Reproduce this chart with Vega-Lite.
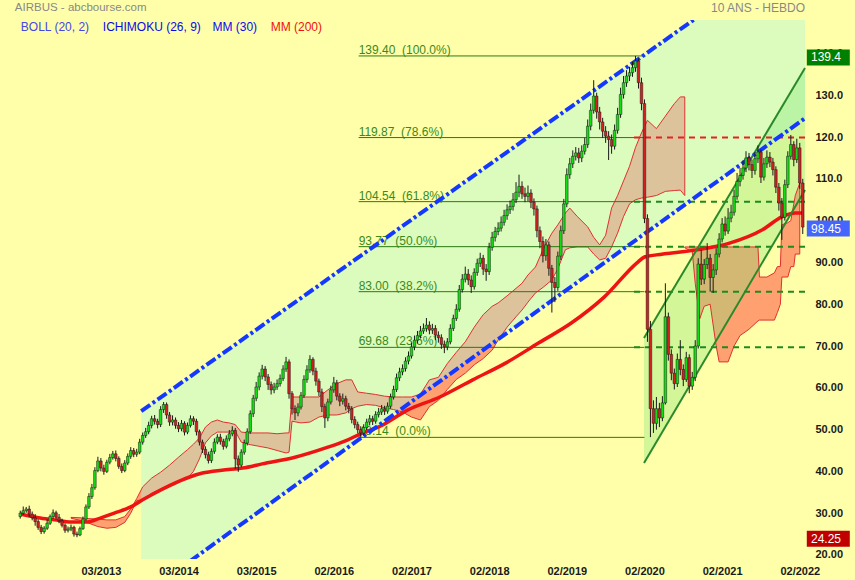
{
"$schema": "https://vega.github.io/schema/vega-lite/v6.json",
"width": 810, "height": 539,
"autosize": {"type": "none"},
"padding": {"left": 0, "top": 20, "right": 45, "bottom": 21},
"background": "#FFFFAA",
"config": {"font": "Liberation Sans", "view": {"stroke": null}},
"datasets": {
"candles": [
{"w":0,"o":29.2,"h":30.6,"l":28.7,"c":30.0},{"w":2,"o":30.0,"h":31.6,"l":29.6,"c":30.6},{"w":4,"o":30.6,"h":31.5,"l":30.1,"c":31.0},{"w":6,"o":31.0,"h":31.8,"l":29.1,"c":29.8},{"w":8,"o":29.8,"h":30.4,"l":28.3,"c":28.9},{"w":10,"o":28.9,"h":29.8,"l":27.0,"c":28.0},{"w":12,"o":28.0,"h":28.5,"l":26.0,"c":26.6},{"w":14,"o":26.6,"h":27.2,"l":25.0,"c":25.6},{"w":16,"o":25.6,"h":26.9,"l":25.1,"c":26.4},{"w":18,"o":26.4,"h":28.5,"l":26.0,"c":27.6},
{"w":20,"o":27.6,"h":29.7,"l":27.2,"c":29.2},{"w":22,"o":29.2,"h":30.9,"l":28.7,"c":30.1},{"w":24,"o":30.1,"h":30.6,"l":28.5,"c":29.0},{"w":26,"o":29.0,"h":29.8,"l":27.6,"c":28.2},{"w":28,"o":28.2,"h":28.7,"l":26.6,"c":27.1},{"w":30,"o":27.1,"h":27.6,"l":25.3,"c":25.9},{"w":32,"o":25.9,"h":26.8,"l":25.4,"c":26.2},{"w":34,"o":26.2,"h":27.3,"l":25.7,"c":26.6},{"w":36,"o":26.6,"h":27.0,"l":24.4,"c":25.0},{"w":38,"o":25.0,"h":25.6,"l":24.25,"c":24.8},
{"w":40,"o":24.8,"h":26.8,"l":24.5,"c":26.3},{"w":42,"o":26.3,"h":29.2,"l":26.0,"c":28.6},{"w":44,"o":28.6,"h":32.1,"l":28.2,"c":31.5},{"w":46,"o":31.5,"h":34.8,"l":31.0,"c":34.0},{"w":48,"o":34.0,"h":37.0,"l":33.4,"c":36.1},{"w":50,"o":36.1,"h":41.0,"l":35.6,"c":40.2},{"w":52,"o":40.2,"h":43.5,"l":39.8,"c":42.5},{"w":54,"o":42.5,"h":43.2,"l":40.0,"c":40.8},{"w":56,"o":40.8,"h":41.6,"l":39.2,"c":40.0},{"w":58,"o":40.0,"h":42.8,"l":39.6,"c":42.2},
{"w":60,"o":42.2,"h":44.2,"l":41.7,"c":43.3},{"w":62,"o":43.3,"h":44.9,"l":42.8,"c":44.2},{"w":64,"o":44.2,"h":45.0,"l":42.4,"c":43.1},{"w":66,"o":43.1,"h":43.6,"l":40.6,"c":41.2},{"w":68,"o":41.2,"h":41.9,"l":39.6,"c":40.2},{"w":70,"o":40.2,"h":42.7,"l":39.8,"c":42.0},{"w":72,"o":42.0,"h":44.3,"l":41.5,"c":43.6},{"w":74,"o":43.6,"h":45.8,"l":43.0,"c":45.0},{"w":76,"o":45.0,"h":45.6,"l":43.4,"c":44.1},{"w":78,"o":44.1,"h":45.4,"l":43.5,"c":44.6},
{"w":80,"o":44.6,"h":47.8,"l":44.1,"c":47.0},{"w":82,"o":47.0,"h":49.3,"l":46.4,"c":48.6},{"w":84,"o":48.6,"h":50.4,"l":48.0,"c":49.5},{"w":86,"o":49.5,"h":51.9,"l":48.9,"c":51.0},{"w":88,"o":51.0,"h":53.3,"l":50.3,"c":52.6},{"w":90,"o":52.6,"h":53.5,"l":51.2,"c":52.0},{"w":92,"o":52.0,"h":52.6,"l":50.3,"c":51.2},{"w":94,"o":51.2,"h":55.6,"l":50.6,"c":54.8},{"w":96,"o":54.8,"h":56.6,"l":54.0,"c":56.0},{"w":98,"o":56.0,"h":56.5,"l":52.6,"c":53.5},
{"w":100,"o":53.5,"h":54.2,"l":50.9,"c":51.8},{"w":102,"o":51.8,"h":53.4,"l":51.0,"c":52.3},{"w":104,"o":52.3,"h":52.9,"l":50.2,"c":51.0},{"w":106,"o":51.0,"h":51.8,"l":49.4,"c":50.2},{"w":108,"o":50.2,"h":52.3,"l":49.6,"c":51.5},{"w":110,"o":51.5,"h":52.0,"l":48.6,"c":49.4},{"w":112,"o":49.4,"h":51.7,"l":48.9,"c":51.0},{"w":114,"o":51.0,"h":53.4,"l":50.5,"c":52.6},{"w":116,"o":52.6,"h":53.2,"l":51.1,"c":52.0},{"w":118,"o":52.0,"h":52.6,"l":48.6,"c":49.5},
{"w":120,"o":49.5,"h":50.0,"l":46.2,"c":47.0},{"w":122,"o":47.0,"h":47.6,"l":44.4,"c":45.3},{"w":124,"o":45.3,"h":46.0,"l":43.1,"c":44.0},{"w":126,"o":44.0,"h":44.7,"l":41.9,"c":42.6},{"w":128,"o":42.6,"h":45.5,"l":42.0,"c":44.8},{"w":130,"o":44.8,"h":47.9,"l":44.2,"c":47.0},{"w":132,"o":47.0,"h":48.9,"l":46.5,"c":48.2},{"w":134,"o":48.2,"h":49.0,"l":46.4,"c":47.2},{"w":136,"o":47.2,"h":47.8,"l":45.2,"c":46.0},{"w":138,"o":46.0,"h":48.6,"l":45.5,"c":47.8},
{"w":140,"o":47.8,"h":49.9,"l":47.2,"c":49.0},{"w":142,"o":49.0,"h":50.8,"l":48.4,"c":49.8},{"w":144,"o":49.8,"h":50.4,"l":40.6,"c":43.0},{"w":146,"o":43.0,"h":43.8,"l":39.9,"c":41.5},{"w":148,"o":41.5,"h":45.3,"l":41.0,"c":44.6},{"w":150,"o":44.6,"h":47.6,"l":44.0,"c":46.8},{"w":152,"o":46.8,"h":50.3,"l":46.2,"c":49.5},{"w":154,"o":49.5,"h":54.6,"l":49.0,"c":53.8},{"w":156,"o":53.8,"h":58.3,"l":53.0,"c":57.5},{"w":158,"o":57.5,"h":61.4,"l":56.8,"c":60.2},
{"w":160,"o":60.2,"h":63.7,"l":59.4,"c":62.8},{"w":162,"o":62.8,"h":65.5,"l":62.0,"c":64.5},{"w":164,"o":64.5,"h":65.2,"l":61.6,"c":62.6},{"w":166,"o":62.6,"h":63.3,"l":59.5,"c":60.8},{"w":168,"o":60.8,"h":61.5,"l":58.4,"c":59.5},{"w":170,"o":59.5,"h":61.2,"l":58.7,"c":60.2},{"w":172,"o":60.2,"h":62.0,"l":59.5,"c":61.0},{"w":174,"o":61.0,"h":63.2,"l":60.3,"c":62.2},{"w":176,"o":62.2,"h":65.4,"l":61.6,"c":64.5},{"w":178,"o":64.5,"h":67.4,"l":63.8,"c":66.2},
{"w":180,"o":66.2,"h":66.8,"l":57.4,"c":58.6},{"w":182,"o":58.6,"h":59.2,"l":53.6,"c":55.0},{"w":184,"o":55.0,"h":55.8,"l":52.3,"c":54.0},{"w":186,"o":54.0,"h":56.3,"l":53.2,"c":55.4},{"w":188,"o":55.4,"h":59.0,"l":54.8,"c":58.2},{"w":190,"o":58.2,"h":63.0,"l":57.6,"c":62.0},{"w":192,"o":62.0,"h":65.4,"l":61.2,"c":64.3},{"w":194,"o":64.3,"h":67.8,"l":63.6,"c":66.8},{"w":196,"o":66.8,"h":67.3,"l":63.0,"c":64.0},{"w":198,"o":64.0,"h":64.8,"l":60.5,"c":61.6},
{"w":200,"o":61.6,"h":62.2,"l":58.0,"c":59.0},{"w":202,"o":59.0,"h":59.8,"l":54.2,"c":55.5},{"w":204,"o":55.5,"h":56.2,"l":50.4,"c":52.8},{"w":206,"o":52.8,"h":57.4,"l":52.0,"c":56.6},{"w":208,"o":56.6,"h":60.5,"l":56.0,"c":59.5},{"w":210,"o":59.5,"h":62.6,"l":58.8,"c":61.2},{"w":212,"o":61.2,"h":61.9,"l":57.0,"c":58.0},{"w":214,"o":58.0,"h":58.7,"l":55.6,"c":56.8},{"w":216,"o":56.8,"h":58.6,"l":56.0,"c":57.4},{"w":218,"o":57.4,"h":58.1,"l":54.6,"c":55.6},
{"w":220,"o":55.6,"h":56.4,"l":53.9,"c":55.0},{"w":222,"o":55.0,"h":55.6,"l":51.5,"c":52.4},{"w":224,"o":52.4,"h":53.2,"l":50.3,"c":51.2},{"w":226,"o":51.2,"h":51.9,"l":49.1,"c":50.0},{"w":228,"o":50.0,"h":50.8,"l":48.14,"c":49.2},{"w":230,"o":49.2,"h":51.3,"l":48.6,"c":50.5},{"w":232,"o":50.5,"h":52.6,"l":49.9,"c":51.8},{"w":234,"o":51.8,"h":53.5,"l":51.0,"c":52.6},{"w":236,"o":52.6,"h":53.3,"l":51.1,"c":52.0},{"w":238,"o":52.0,"h":54.4,"l":51.4,"c":53.6},
{"w":240,"o":53.6,"h":55.2,"l":52.9,"c":54.2},{"w":242,"o":54.2,"h":55.9,"l":53.5,"c":55.0},{"w":244,"o":55.0,"h":55.7,"l":53.5,"c":54.4},{"w":246,"o":54.4,"h":56.5,"l":53.8,"c":55.6},{"w":248,"o":55.6,"h":58.6,"l":55.0,"c":57.8},{"w":250,"o":57.8,"h":60.5,"l":57.2,"c":59.6},{"w":252,"o":59.6,"h":63.4,"l":59.0,"c":62.4},{"w":254,"o":62.4,"h":64.8,"l":61.6,"c":63.8},{"w":256,"o":63.8,"h":65.6,"l":63.0,"c":64.6},{"w":258,"o":64.6,"h":67.3,"l":63.9,"c":66.4},
{"w":260,"o":66.4,"h":68.7,"l":65.6,"c":67.6},{"w":262,"o":67.6,"h":70.8,"l":67.0,"c":69.8},{"w":264,"o":69.8,"h":72.5,"l":69.0,"c":71.4},{"w":266,"o":71.4,"h":73.6,"l":70.6,"c":72.5},{"w":268,"o":72.5,"h":74.8,"l":71.8,"c":73.6},{"w":270,"o":73.6,"h":75.4,"l":72.9,"c":74.2},{"w":272,"o":74.2,"h":76.7,"l":73.4,"c":75.0},{"w":274,"o":75.0,"h":75.9,"l":72.8,"c":73.8},{"w":276,"o":73.8,"h":75.3,"l":72.9,"c":74.2},{"w":278,"o":74.2,"h":75.0,"l":71.4,"c":72.6},
{"w":280,"o":72.6,"h":73.5,"l":70.8,"c":72.0},{"w":282,"o":72.0,"h":72.8,"l":69.3,"c":70.4},{"w":284,"o":70.4,"h":71.3,"l":68.3,"c":69.8},{"w":286,"o":69.8,"h":71.9,"l":69.0,"c":71.0},{"w":288,"o":71.0,"h":75.2,"l":70.4,"c":74.2},{"w":290,"o":74.2,"h":77.5,"l":73.6,"c":76.6},{"w":292,"o":76.6,"h":80.0,"l":76.0,"c":78.8},{"w":294,"o":78.8,"h":84.6,"l":78.2,"c":83.5},{"w":296,"o":83.5,"h":87.2,"l":82.8,"c":86.0},{"w":298,"o":86.0,"h":89.0,"l":85.2,"c":87.2},
{"w":300,"o":87.2,"h":88.4,"l":84.6,"c":85.8},{"w":302,"o":85.8,"h":86.9,"l":82.7,"c":84.2},{"w":304,"o":84.2,"h":88.6,"l":83.5,"c":87.6},{"w":306,"o":87.6,"h":90.9,"l":86.8,"c":89.8},{"w":308,"o":89.8,"h":92.3,"l":88.9,"c":91.0},{"w":310,"o":91.0,"h":91.8,"l":87.0,"c":88.4},{"w":312,"o":88.4,"h":89.6,"l":85.6,"c":87.8},{"w":314,"o":87.8,"h":94.7,"l":87.0,"c":93.6},{"w":316,"o":93.6,"h":97.3,"l":92.8,"c":96.0},{"w":318,"o":96.0,"h":98.5,"l":95.0,"c":97.4},
{"w":320,"o":97.4,"h":99.6,"l":96.5,"c":98.2},{"w":322,"o":98.2,"h":101.0,"l":97.4,"c":99.6},{"w":324,"o":99.6,"h":102.6,"l":98.8,"c":101.2},{"w":326,"o":101.2,"h":103.9,"l":100.2,"c":102.6},{"w":328,"o":102.6,"h":104.8,"l":101.6,"c":103.4},{"w":330,"o":103.4,"h":106.6,"l":102.4,"c":105.0},{"w":332,"o":105.0,"h":109.2,"l":104.2,"c":106.8},{"w":334,"o":106.8,"h":111.0,"l":105.6,"c":108.2},{"w":336,"o":108.2,"h":109.4,"l":105.2,"c":106.4},{"w":338,"o":106.4,"h":107.9,"l":104.4,"c":105.8},
{"w":340,"o":105.8,"h":108.4,"l":104.6,"c":106.6},{"w":342,"o":106.6,"h":107.5,"l":103.0,"c":104.4},{"w":344,"o":104.4,"h":105.3,"l":101.2,"c":102.8},{"w":346,"o":102.8,"h":103.6,"l":96.0,"c":97.6},{"w":348,"o":97.6,"h":98.6,"l":93.4,"c":95.0},{"w":350,"o":95.0,"h":96.2,"l":90.0,"c":91.6},{"w":352,"o":91.6,"h":95.6,"l":90.4,"c":94.2},{"w":354,"o":94.2,"h":95.0,"l":86.8,"c":88.6},{"w":356,"o":88.6,"h":89.4,"l":78.0,"c":85.2},{"w":358,"o":85.2,"h":86.5,"l":80.5,"c":84.0},
{"w":360,"o":84.0,"h":92.6,"l":83.2,"c":91.5},{"w":362,"o":91.5,"h":98.8,"l":90.6,"c":97.6},{"w":364,"o":97.6,"h":105.2,"l":96.8,"c":104.0},{"w":366,"o":104.0,"h":112.5,"l":103.2,"c":111.0},{"w":368,"o":111.0,"h":115.0,"l":110.0,"c":113.6},{"w":370,"o":113.6,"h":116.8,"l":112.6,"c":115.4},{"w":372,"o":115.4,"h":117.6,"l":114.4,"c":116.2},{"w":374,"o":116.2,"h":117.4,"l":113.8,"c":115.0},{"w":376,"o":115.0,"h":118.0,"l":114.0,"c":116.6},{"w":378,"o":116.6,"h":119.8,"l":115.8,"c":118.2},
{"w":380,"o":118.2,"h":124.2,"l":117.4,"c":122.6},{"w":382,"o":122.6,"h":128.0,"l":121.6,"c":126.4},{"w":384,"o":126.4,"h":133.6,"l":125.6,"c":129.8},{"w":386,"o":129.8,"h":130.6,"l":124.4,"c":126.0},{"w":388,"o":126.0,"h":127.2,"l":121.8,"c":123.6},{"w":390,"o":123.6,"h":124.6,"l":119.8,"c":121.4},{"w":392,"o":121.4,"h":122.6,"l":118.6,"c":120.2},{"w":394,"o":120.2,"h":121.4,"l":114.5,"c":119.4},{"w":396,"o":119.4,"h":120.6,"l":116.0,"c":117.8},{"w":398,"o":117.8,"h":123.0,"l":117.0,"c":121.6},
{"w":400,"o":121.6,"h":127.0,"l":120.8,"c":125.4},{"w":402,"o":125.4,"h":131.8,"l":124.6,"c":130.2},{"w":404,"o":130.2,"h":134.6,"l":129.2,"c":133.0},{"w":406,"o":133.0,"h":136.0,"l":132.0,"c":134.6},{"w":408,"o":134.6,"h":136.8,"l":133.4,"c":135.4},{"w":410,"o":135.4,"h":138.0,"l":134.4,"c":136.6},{"w":412,"o":136.6,"h":139.4,"l":135.6,"c":138.2},{"w":414,"o":138.2,"h":138.8,"l":131.6,"c":133.0},{"w":416,"o":133.0,"h":134.2,"l":126.4,"c":128.0},{"w":418,"o":128.0,"h":129.0,"l":99.4,"c":100.5},
{"w":420,"o":100.5,"h":101.5,"l":71.0,"c":74.0},{"w":422,"o":74.0,"h":76.0,"l":48.2,"c":55.0},{"w":424,"o":55.0,"h":57.0,"l":49.2,"c":51.5},{"w":426,"o":51.5,"h":57.8,"l":50.0,"c":55.0},{"w":428,"o":55.0,"h":56.4,"l":50.6,"c":52.8},{"w":430,"o":52.8,"h":58.0,"l":52.0,"c":56.4},{"w":432,"o":56.4,"h":85.0,"l":56.0,"c":77.0},{"w":434,"o":77.0,"h":78.0,"l":66.5,"c":68.0},{"w":436,"o":68.0,"h":69.2,"l":61.8,"c":63.5},{"w":438,"o":63.5,"h":64.6,"l":59.6,"c":61.0},
{"w":440,"o":61.0,"h":68.2,"l":60.2,"c":66.8},{"w":442,"o":66.8,"h":71.4,"l":63.0,"c":64.4},{"w":444,"o":64.4,"h":65.6,"l":60.4,"c":62.0},{"w":446,"o":62.0,"h":68.6,"l":61.4,"c":67.2},{"w":448,"o":67.2,"h":68.0,"l":58.7,"c":60.4},{"w":450,"o":60.4,"h":63.8,"l":59.5,"c":62.5},{"w":452,"o":62.5,"h":71.4,"l":61.6,"c":70.0},{"w":454,"o":70.0,"h":91.0,"l":69.4,"c":89.6},{"w":456,"o":89.6,"h":93.0,"l":84.6,"c":86.0},{"w":458,"o":86.0,"h":90.8,"l":84.8,"c":89.5},
{"w":460,"o":89.5,"h":94.6,"l":88.4,"c":91.0},{"w":462,"o":91.0,"h":92.0,"l":83.0,"c":86.4},{"w":464,"o":86.4,"h":89.6,"l":82.7,"c":88.2},{"w":466,"o":88.2,"h":93.4,"l":87.0,"c":92.0},{"w":468,"o":92.0,"h":97.0,"l":91.2,"c":95.6},{"w":470,"o":95.6,"h":100.6,"l":94.8,"c":99.2},{"w":472,"o":99.2,"h":101.0,"l":96.4,"c":97.5},{"w":474,"o":97.5,"h":103.0,"l":96.8,"c":100.6},{"w":476,"o":100.6,"h":103.8,"l":99.6,"c":102.0},{"w":478,"o":102.0,"h":107.4,"l":101.2,"c":105.8},
{"w":480,"o":105.8,"h":111.4,"l":105.0,"c":109.4},{"w":482,"o":109.4,"h":112.6,"l":108.2,"c":110.8},{"w":484,"o":110.8,"h":114.4,"l":109.8,"c":112.6},{"w":486,"o":112.6,"h":116.6,"l":111.6,"c":115.0},{"w":488,"o":115.0,"h":116.2,"l":112.0,"c":113.4},{"w":490,"o":113.4,"h":114.6,"l":110.2,"c":112.0},{"w":492,"o":112.0,"h":116.4,"l":111.0,"c":114.8},{"w":494,"o":114.8,"h":118.0,"l":113.8,"c":116.4},{"w":496,"o":116.4,"h":117.0,"l":109.0,"c":110.4},{"w":498,"o":110.4,"h":115.0,"l":109.6,"c":113.6},
{"w":500,"o":113.6,"h":116.8,"l":112.6,"c":115.2},{"w":502,"o":115.2,"h":116.4,"l":112.8,"c":114.0},{"w":504,"o":114.0,"h":115.0,"l":110.8,"c":112.2},{"w":506,"o":112.2,"h":113.0,"l":106.6,"c":108.0},{"w":508,"o":108.0,"h":109.0,"l":102.4,"c":104.2},{"w":510,"o":104.2,"h":105.4,"l":95.4,"c":100.8},{"w":512,"o":100.8,"h":109.8,"l":100.0,"c":108.6},{"w":514,"o":108.6,"h":116.6,"l":107.8,"c":115.4},{"w":516,"o":115.4,"h":120.5,"l":114.6,"c":118.2},{"w":518,"o":118.2,"h":119.0,"l":113.0,"c":114.6},
{"w":520,"o":114.6,"h":119.6,"l":113.8,"c":117.4},{"w":522,"o":117.4,"h":118.6,"l":107.6,"c":109.0},{"w":524,"o":109.0,"h":110.0,"l":96.8,"c":98.45}
],
"mm": [
{"w":0,"v":29.8},{"w":12,"v":28.9},{"w":23,"v":28.4},{"w":34,"v":27.9},{"w":45,"v":27.9},{"w":54,"v":28.9},{"w":63,"v":30.0},{"w":74,"v":31.5},{"w":82,"v":33.2},{"w":89,"v":34.6},{"w":100,"v":36.6},{"w":113,"v":38.6},{"w":122,"v":39.6},{"w":135,"v":40.3},{"w":149,"v":40.8},{"w":162,"v":41.8},{"w":184,"v":43.4},{"w":206,"v":45.8},{"w":219,"v":47.5},{"w":228,"v":49.0},{"w":241,"v":50.8},{"w":259,"v":54.6},{"w":281,"v":57.8},{"w":303,"v":61.9},{"w":325,"v":65.9},{"w":347,"v":70.7},{"w":369,"v":75.5},{"w":391,"v":81.7},{"w":413,"v":89.9},{"w":418,"v":91.3},{"w":426,"v":91.8},{"w":453,"v":93.0},{"w":475,"v":94.6},{"w":497,"v":97.8},{"w":510,"v":100.9},{"w":519,"v":101.8},{"w":524,"v":101.8}
],
"cloud": [
{"s":1,"w":34,"t":29.0,"b":28.8},{"s":1,"w":40,"t":28.9,"b":28.3},{"s":1,"w":46,"t":28.7,"b":27.6},{"s":1,"w":52,"t":28.6,"b":26.8},{"s":1,"w":58,"t":28.4,"b":26.4},{"s":1,"w":64,"t":28.4,"b":26.6},{"s":1,"w":70,"t":29.2,"b":27.8},{"s":1,"w":74,"t":31.0,"b":30.0},{"s":1,"w":78,"t":33.5,"b":33.0},{"s":1,"w":82,"t":36.3,"b":33.2},
{"s":1,"w":88,"t":38.4,"b":34.8},{"s":1,"w":94,"t":39.8,"b":35.8},{"s":1,"w":100,"t":41.5,"b":36.9},{"s":1,"w":106,"t":43.4,"b":37.6},{"s":1,"w":112,"t":45.2,"b":38.4},{"s":1,"w":116,"t":46.5,"b":40.0},{"s":1,"w":120,"t":48.0,"b":43.0},{"s":1,"w":124,"t":50.6,"b":46.8},{"s":1,"w":128,"t":51.8,"b":48.5},{"s":1,"w":132,"t":52.3,"b":49.4},
{"s":1,"w":136,"t":51.8,"b":49.4},{"s":1,"w":140,"t":51.6,"b":49.4},{"s":1,"w":144,"t":51.2,"b":49.6},{"s":1,"w":148,"t":49.4,"b":47.0},{"s":1,"w":154,"t":49.2,"b":46.4},{"s":1,"w":160,"t":49.2,"b":46.0},{"s":1,"w":166,"t":49.2,"b":45.6},{"s":1,"w":172,"t":49.0,"b":45.0},{"s":1,"w":178,"t":49.2,"b":44.4},{"s":1,"w":180,"t":49.2,"b":44.6},
{"s":1,"w":182,"t":57.8,"b":52.0},{"s":1,"w":188,"t":57.8,"b":51.6},{"s":1,"w":194,"t":57.8,"b":51.8},{"s":1,"w":200,"t":57.8,"b":53.0},{"s":1,"w":206,"t":59.5,"b":53.5},{"s":1,"w":212,"t":61.0,"b":53.5},{"s":1,"w":218,"t":61.9,"b":54.0},{"s":1,"w":222,"t":61.9,"b":55.0},{"s":1,"w":226,"t":59.0,"b":55.6},{"s":1,"w":232,"t":58.7,"b":56.0},
{"s":1,"w":238,"t":58.4,"b":55.8},{"s":1,"w":244,"t":58.0,"b":55.2},{"s":1,"w":250,"t":57.8,"b":54.8},{"s":1,"w":256,"t":57.8,"b":54.2},{"s":1,"w":262,"t":57.8,"b":53.0},{"s":1,"w":268,"t":58.5,"b":52.3},{"s":1,"w":274,"t":61.9,"b":55.5},{"s":1,"w":280,"t":62.5,"b":57.0},{"s":1,"w":286,"t":65.8,"b":59.6},{"s":1,"w":292,"t":68.5,"b":62.0},
{"s":1,"w":298,"t":71.0,"b":63.5},{"s":1,"w":304,"t":74.5,"b":65.5},{"s":1,"w":310,"t":77.5,"b":67.0},{"s":1,"w":316,"t":79.5,"b":69.0},{"s":1,"w":320,"t":80.3,"b":71.4},{"s":1,"w":326,"t":82.0,"b":74.5},{"s":1,"w":332,"t":83.8,"b":77.0},{"s":1,"w":336,"t":85.0,"b":78.6},{"s":1,"w":340,"t":87.0,"b":80.5},{"s":1,"w":345,"t":88.9,"b":82.7},
{"s":1,"w":350,"t":93.0,"b":84.0},{"s":1,"w":356,"t":97.0,"b":85.8},{"s":1,"w":360,"t":99.0,"b":88.5},{"s":1,"w":365,"t":101.8,"b":93.0},{"s":1,"w":368,"t":103.0,"b":93.5},{"s":1,"w":373,"t":101.0,"b":93.7},{"s":1,"w":380,"t":98.5,"b":93.7},{"s":1,"w":384,"t":96.0,"b":92.0},{"s":1,"w":388,"t":94.2,"b":90.6},{"s":1,"w":392,"t":96.5,"b":91.0},
{"s":1,"w":396,"t":103.0,"b":93.7},{"s":1,"w":400,"t":106.0,"b":97.0},{"s":1,"w":404,"t":109.5,"b":101.0},{"s":1,"w":408,"t":113.0,"b":104.0},{"s":1,"w":412,"t":117.5,"b":105.0},{"s":1,"w":416,"t":121.0,"b":105.4},{"s":1,"w":420,"t":124.0,"b":105.6},{"s":1,"w":426,"t":122.0,"b":106.0},{"s":1,"w":432,"t":125.0,"b":107.0},{"s":1,"w":438,"t":128.0,"b":107.2},
{"s":1,"w":442,"t":129.6,"b":107.3},{"s":1,"w":445,"t":129.6,"b":106.0},
{"s":2,"w":445,"t":93.7,"b":93.5},{"s":2,"w":450,"t":93.7,"b":92.5},{"s":2,"w":452,"t":93.7,"b":85.0},{"s":2,"w":455,"t":93.7,"b":76.5},{"s":2,"w":458,"t":93.7,"b":79.5},{"s":2,"w":462,"t":93.7,"b":80.0},{"s":2,"w":466,"t":93.7,"b":70.0},{"s":2,"w":468,"t":93.7,"b":66.2},{"s":2,"w":474,"t":93.7,"b":66.2},{"s":2,"w":478,"t":93.7,"b":70.0},
{"s":2,"w":482,"t":93.7,"b":72.5},{"s":2,"w":488,"t":93.7,"b":74.0},{"s":2,"w":494,"t":93.7,"b":76.0},{"s":2,"w":495,"t":86.5,"b":76.2},{"s":2,"w":500,"t":86.5,"b":76.2},{"s":2,"w":505,"t":87.5,"b":76.2},{"s":2,"w":507,"t":89.0,"b":78.0},{"s":2,"w":509,"t":89.0,"b":80.0},{"s":2,"w":510,"t":99.0,"b":86.5},{"s":2,"w":514,"t":99.5,"b":86.5},
{"s":2,"w":516,"t":100.0,"b":89.0},{"s":2,"w":518,"t":104.0,"b":89.0},{"s":2,"w":519,"t":106.0,"b":92.0},{"s":2,"w":522,"t":109.0,"b":92.0}
],
"band": [{"w":81,"u":54.4,"l":10.1},{"w":525.5,"u":166.9,"l":124.5}],
"chan": [{"w":417.7,"lo":42.0,"up":71.9},{"w":525.5,"lo":107.3,"up":136.5}],
"fib": [
{"v":139.40,"t":"139.40\u00a0 (100.0%)"},{"v":119.87,"t":"119.87\u00a0 (78.6%)"},{"v":104.54,"t":"104.54\u00a0 (61.8%)"},{"v":93.77,"t":"93.77\u00a0 (50.0%)"},{"v":83.00,"t":"83.00\u00a0 (38.2%)"},{"v":69.68,"t":"69.68\u00a0 (23.6%)"},{"v":48.14,"t":"48.14\u00a0 (0.0%)"}
],
"marks": [{"v":139.4,"t":"139.4","kind":"high"},{"v":98.45,"t":"98.45","kind":"last"},{"v":24.25,"t":"24.25","kind":"low"}]
},
"layer": [
{"data":{"name":"cloud"},"mark":{"type":"area","color":"#FFA070","opacity":1},
 "encoding":{"x":{"field":"w","type":"quantitative","scale":{"domain":[-10.2,525.5],"nice":false,"zero":false},"axis":null},
 "y":{"field":"t","type":"quantitative","scale":{"domain":[19.04,148],"nice":false,"zero":false},"axis":null},
 "y2":{"field":"b"},"detail":{"field":"s","type":"nominal"}}},
{"data":{"name":"band"},"mark":{"type":"area","color":"#A7F7DC","opacity":0.4,"clip":true},
 "encoding":{"x":{"field":"w","type":"quantitative","scale":{"domain":[-10.2,525.5],"nice":false,"zero":false},"axis":null},
 "y":{"field":"u","type":"quantitative","scale":{"domain":[19.04,148],"nice":false,"zero":false},"axis":null},
 "y2":{"field":"l"}}},
{"data":{"name":"chan"},"mark":{"type":"area","color":"#82E678","opacity":0.35,"clip":true},
 "encoding":{"x":{"field":"w","type":"quantitative","scale":{"domain":[-10.2,525.5],"nice":false,"zero":false},"axis":null},
 "y":{"field":"up","type":"quantitative","scale":{"domain":[19.04,148],"nice":false,"zero":false},"axis":null},
 "y2":{"field":"lo"}}},
{"data":{"name":"cloud"},"mark":{"type":"area","fillOpacity":0,"stroke":"#E03030","strokeWidth":1},
 "encoding":{"x":{"field":"w","type":"quantitative","scale":{"domain":[-10.2,525.5],"nice":false,"zero":false},"axis":null},
 "y":{"field":"t","type":"quantitative","scale":{"domain":[19.04,148],"nice":false,"zero":false},"axis":null},
 "y2":{"field":"b"},"detail":{"field":"s","type":"nominal"}}},
{"data":{"name":"fib"},"mark":{"type":"rule","color":"#2A7A12","strokeWidth":1},
 "encoding":{"x":{"datum":226.6,"type":"quantitative","scale":{"domain":[-10.2,525.5],"nice":false,"zero":false},"axis":null},"x2":{"datum":418},
 "y":{"field":"v","type":"quantitative","scale":{"domain":[19.04,148],"nice":false,"zero":false},"axis":null}}},
{"data":{"name":"fib"},"transform":[{"filter":"datum.v > 60 && datum.v < 130"}],"mark":{"type":"rule","strokeDash":[6,5],"strokeWidth":2},
 "encoding":{"x":{"datum":411,"type":"quantitative","scale":{"domain":[-10.2,525.5],"nice":false,"zero":false},"axis":null},"x2":{"datum":525.5},
 "y":{"field":"v","type":"quantitative","scale":{"domain":[19.04,148],"nice":false,"zero":false},"axis":null},
 "color":{"condition":{"test":"datum.v > 110","value":"#E82020"},"value":"#1E8A1E"}}},
{"data":{"name":"fib"},"mark":{"type":"text","align":"left","baseline":"alphabetic","dy":-2,"fontSize":12,"color":"#3A8A1A"},
 "encoding":{"x":{"datum":226.6,"type":"quantitative","scale":{"domain":[-10.2,525.5],"nice":false,"zero":false},"axis":null},
 "y":{"field":"v","type":"quantitative","scale":{"domain":[19.04,148],"nice":false,"zero":false},"axis":null},"text":{"field":"t"}}},
{"data":{"name":"mm"},"mark":{"type":"line","color":"#EE1414","strokeWidth":3.5,"interpolate":"monotone"},
 "encoding":{"x":{"field":"w","type":"quantitative","scale":{"domain":[-10.2,525.5],"nice":false,"zero":false},"axis":null},
 "y":{"field":"v","type":"quantitative","scale":{"domain":[19.04,148],"nice":false,"zero":false},"axis":null}}},
{"data":{"name":"chan"},"transform":[{"fold":["lo","up"],"as":["s","v"]}],"mark":{"type":"line","color":"#2A8A2A","strokeWidth":2,"clip":true},
 "encoding":{"x":{"field":"w","type":"quantitative","scale":{"domain":[-10.2,525.5],"nice":false,"zero":false},"axis":null},
 "y":{"field":"v","type":"quantitative","scale":{"domain":[19.04,148],"nice":false,"zero":false},"axis":null},"detail":{"field":"s","type":"nominal"}}},
{"data":{"name":"band"},"transform":[{"fold":["u","l"],"as":["s","v"]}],"mark":{"type":"line","color":"#1438FF","strokeWidth":4,"strokeDash":[11,3,3,3],"clip":true},
 "encoding":{"x":{"field":"w","type":"quantitative","scale":{"domain":[-10.2,525.5],"nice":false,"zero":false},"axis":null},
 "y":{"field":"v","type":"quantitative","scale":{"domain":[19.04,148],"nice":false,"zero":false},"axis":null},"detail":{"field":"s","type":"nominal"}}},
{"data":{"name":"candles"},"mark":{"type":"rule","color":"#1A1A1A","strokeWidth":1},
 "encoding":{"x":{"field":"w","type":"quantitative","scale":{"domain":[-10.2,525.5],"nice":false,"zero":false},
   "axis":{"values":[54,106,158,210,262,314,366,418,470,522],"labelExpr":"['03/2013','03/2014','03/2015','02/2016','02/2017','02/2018','02/2019','02/2020','02/2021','02/2022'][round((datum.value-54)/52)]","ticks":false,"domain":false,"grid":false,"title":null,"labelFontSize":11,"labelFontWeight":"bold","labelColor":"#1A1A1A","labelPadding":6,"labelOverlap":false,"labelFlush":false}},
 "y":{"field":"l","type":"quantitative","scale":{"domain":[19.04,148],"nice":false,"zero":false},
   "axis":{"orient":"right","values":[20,30,40,50,60,70,80,90,100,110,120,130,140],"labelExpr":"datum.value >= 100 ? format(datum.value, '.1f') : format(datum.value, '.2f')","ticks":false,"domain":false,"grid":false,"title":null,"labelFontSize":11,"labelFontWeight":"bold","labelColor":"#1A1A1A","labelPadding":5,"labelOverlap":false,"labelFlush":false}},
 "y2":{"field":"h"}}},
{"data":{"name":"candles"},"mark":{"type":"bar","size":2.6,"stroke":"#1A1A1A","strokeWidth":0.5},
 "encoding":{"x":{"field":"w","type":"quantitative","scale":{"domain":[-10.2,525.5],"nice":false,"zero":false},"axis":null},
 "y":{"field":"o","type":"quantitative","scale":{"domain":[19.04,148],"nice":false,"zero":false},"axis":null},"y2":{"field":"c"},
 "color":{"condition":{"test":"datum.c >= datum.o","value":"#14DC14"},"value":"#D02020"}}},
{"data":{"name":"marks"},"mark":{"type":"tick","orient":"horizontal","size":43,"thickness":16,"opacity":1,"yOffset":1.5},
 "encoding":{"x":{"datum":541.1,"type":"quantitative","scale":{"domain":[-10.2,525.5],"nice":false,"zero":false},"axis":null},
 "y":{"field":"v","type":"quantitative","scale":{"domain":[19.04,148],"nice":false,"zero":false},"axis":null},
 "color":{"field":"kind","type":"nominal","scale":{"domain":["high","last","low"],"range":["#008000","#4466FF","#C00000"]},"legend":null}}},
{"data":{"name":"marks"},"mark":{"type":"text","align":"left","baseline":"middle","color":"#FFFFFF","fontSize":12,"yOffset":1.5},
 "encoding":{"x":{"datum":529.5,"type":"quantitative","scale":{"domain":[-10.2,525.5],"nice":false,"zero":false},"axis":null},
 "y":{"field":"v","type":"quantitative","scale":{"domain":[19.04,148],"nice":false,"zero":false},"axis":null},"text":{"field":"t"}}},
{"data":{"values":[{"t":"AIRBUS - abcbourse.com"}]},"mark":{"type":"text","align":"left","baseline":"middle","color":"#888888","fontSize":11.5},
 "encoding":{"x":{"datum":-3.6,"type":"quantitative","scale":{"domain":[-10.2,525.5],"nice":false,"zero":false},"axis":null},
 "y":{"datum":150.8,"type":"quantitative","scale":{"domain":[19.04,148],"nice":false,"zero":false},"axis":null},"text":{"field":"t"}}},
{"data":{"values":[{"t":"10 ANS - HEBDO"}]},"mark":{"type":"text","align":"right","baseline":"middle","color":"#888888","fontSize":12},
 "encoding":{"x":{"datum":525.5,"type":"quantitative","scale":{"domain":[-10.2,525.5],"nice":false,"zero":false},"axis":null},
 "y":{"datum":150.8,"type":"quantitative","scale":{"domain":[19.04,148],"nice":false,"zero":false},"axis":null},"text":{"field":"t"}}},
{"data":{"values":[{"t":"BOLL (20, 2)"}]},"mark":{"type":"text","align":"left","baseline":"middle","color":"#4646E6","fontSize":12},
 "encoding":{"x":{"datum":0.4,"type":"quantitative","scale":{"domain":[-10.2,525.5],"nice":false,"zero":false},"axis":null},
 "y":{"datum":146.4,"type":"quantitative","scale":{"domain":[19.04,148],"nice":false,"zero":false},"axis":null},"text":{"field":"t"}}},
{"data":{"values":[{"t":"ICHIMOKU (26, 9)"}]},"mark":{"type":"text","align":"left","baseline":"middle","color":"#0A0AE6","fontSize":12},
 "encoding":{"x":{"datum":55.3,"type":"quantitative","scale":{"domain":[-10.2,525.5],"nice":false,"zero":false},"axis":null},
 "y":{"datum":146.4,"type":"quantitative","scale":{"domain":[19.04,148],"nice":false,"zero":false},"axis":null},"text":{"field":"t"}}},
{"data":{"values":[{"t":"MM (30)"}]},"mark":{"type":"text","align":"left","baseline":"middle","color":"#0A0AF0","fontSize":12},
 "encoding":{"x":{"datum":128.7,"type":"quantitative","scale":{"domain":[-10.2,525.5],"nice":false,"zero":false},"axis":null},
 "y":{"datum":146.4,"type":"quantitative","scale":{"domain":[19.04,148],"nice":false,"zero":false},"axis":null},"text":{"field":"t"}}},
{"data":{"values":[{"t":"MM (200)"}]},"mark":{"type":"text","align":"left","baseline":"middle","color":"#F01010","fontSize":12},
 "encoding":{"x":{"datum":167.7,"type":"quantitative","scale":{"domain":[-10.2,525.5],"nice":false,"zero":false},"axis":null},
 "y":{"datum":146.4,"type":"quantitative","scale":{"domain":[19.04,148],"nice":false,"zero":false},"axis":null},"text":{"field":"t"}}}
],
"resolve": {"scale": {"color": "independent"}, "axis": {"x": "independent", "y": "independent"}}
}
